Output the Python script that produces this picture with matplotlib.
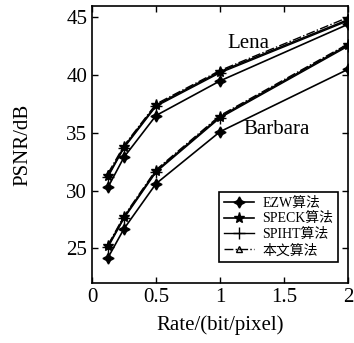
import matplotlib
matplotlib.use("Agg")
from matplotlib import pyplot as plt

plt.rcParams['font.family'] = ['Liberation Serif', 'Noto Sans CJK SC']

# Data
rate = [0.125, 0.25, 0.5, 1.0, 2.0]

lena_ezw = [30.3, 32.9, 36.5, 39.5, 44.4]
lena_speck = [31.3, 33.8, 37.4, 40.3, 44.8]
lena_spiht = [31.2, 33.7, 37.3, 40.2, 44.7]
lena_ours = [31.5, 33.9, 37.5, 40.4, 45.0]

barbara_ezw = [24.2, 26.7, 30.6, 35.1, 40.5]
barbara_speck = [25.2, 27.7, 31.7, 36.4, 42.6]
barbara_spiht = [25.1, 27.6, 31.6, 36.3, 42.5]
barbara_ours = [25.3, 27.8, 31.8, 36.5, 42.7]

labels = ["EZW算法", "SPECK算法", "SPIHT算法", "本文算法"]


def main():
    fig = plt.figure(figsize=(3.54, 3.43), dpi=100)
    ax = fig.add_axes([0.260, 0.175, 0.723, 0.808])

    styles = [
        dict(color="black", lw=1.2, ls="-", marker=(4, 1, 0), ms=8, mfc="black"),
        dict(color="black", lw=1.2, ls="-", marker="*", ms=8, mfc="black"),
        dict(color="black", lw=1.0, ls="-", marker="+", ms=9),
        dict(color="black", lw=1.0, ls="-.", marker="^", ms=5, mfc="none"),
    ]

    lena = [lena_ezw, lena_speck, lena_spiht, lena_ours]
    barbara = [barbara_ezw, barbara_speck, barbara_spiht, barbara_ours]

    for vals, st, lab in zip(lena, styles, labels):
        ax.plot(rate, vals, label=lab, **st)
    for vals, st in zip(barbara, styles):
        ax.plot(rate, vals, **st)

    ax.set_xlim(0, 2)
    ax.set_ylim(22, 46)
    ax.set_xticks([0, 0.5, 1, 1.5, 2])
    ax.set_xticklabels(["0", "0.5", "1", "1.5", "2"])
    ax.set_yticks([25, 30, 35, 40, 45])
    ax.tick_params(direction="in", top=True, right=True, length=4,
                   labelsize=15, width=1)
    for s in ax.spines.values():
        s.set_linewidth(1.2)

    ax.text(1.06, 42.7, "Lena", fontsize=15, va="center", ha="left")
    ax.text(1.18, 35.3, "Barbara", fontsize=15, va="center", ha="left")

    ax.set_xlabel("Rate/(bit/pixel)", fontsize=15, labelpad=6)
    ax.set_ylabel("PSNR/dB", fontsize=15, labelpad=24)

    leg = ax.legend(loc="lower right", fontsize=10, frameon=True, fancybox=False,
                    edgecolor="black", framealpha=1, handlelength=2.2,
                    borderpad=0.35, labelspacing=0.2, handletextpad=0.6,
                    borderaxespad=0, bbox_to_anchor=(0.962, 0.075))
    leg.get_frame().set_linewidth(1.2)

    fig.savefig("out.png", dpi=100)


if __name__ == "__main__":
    main()
